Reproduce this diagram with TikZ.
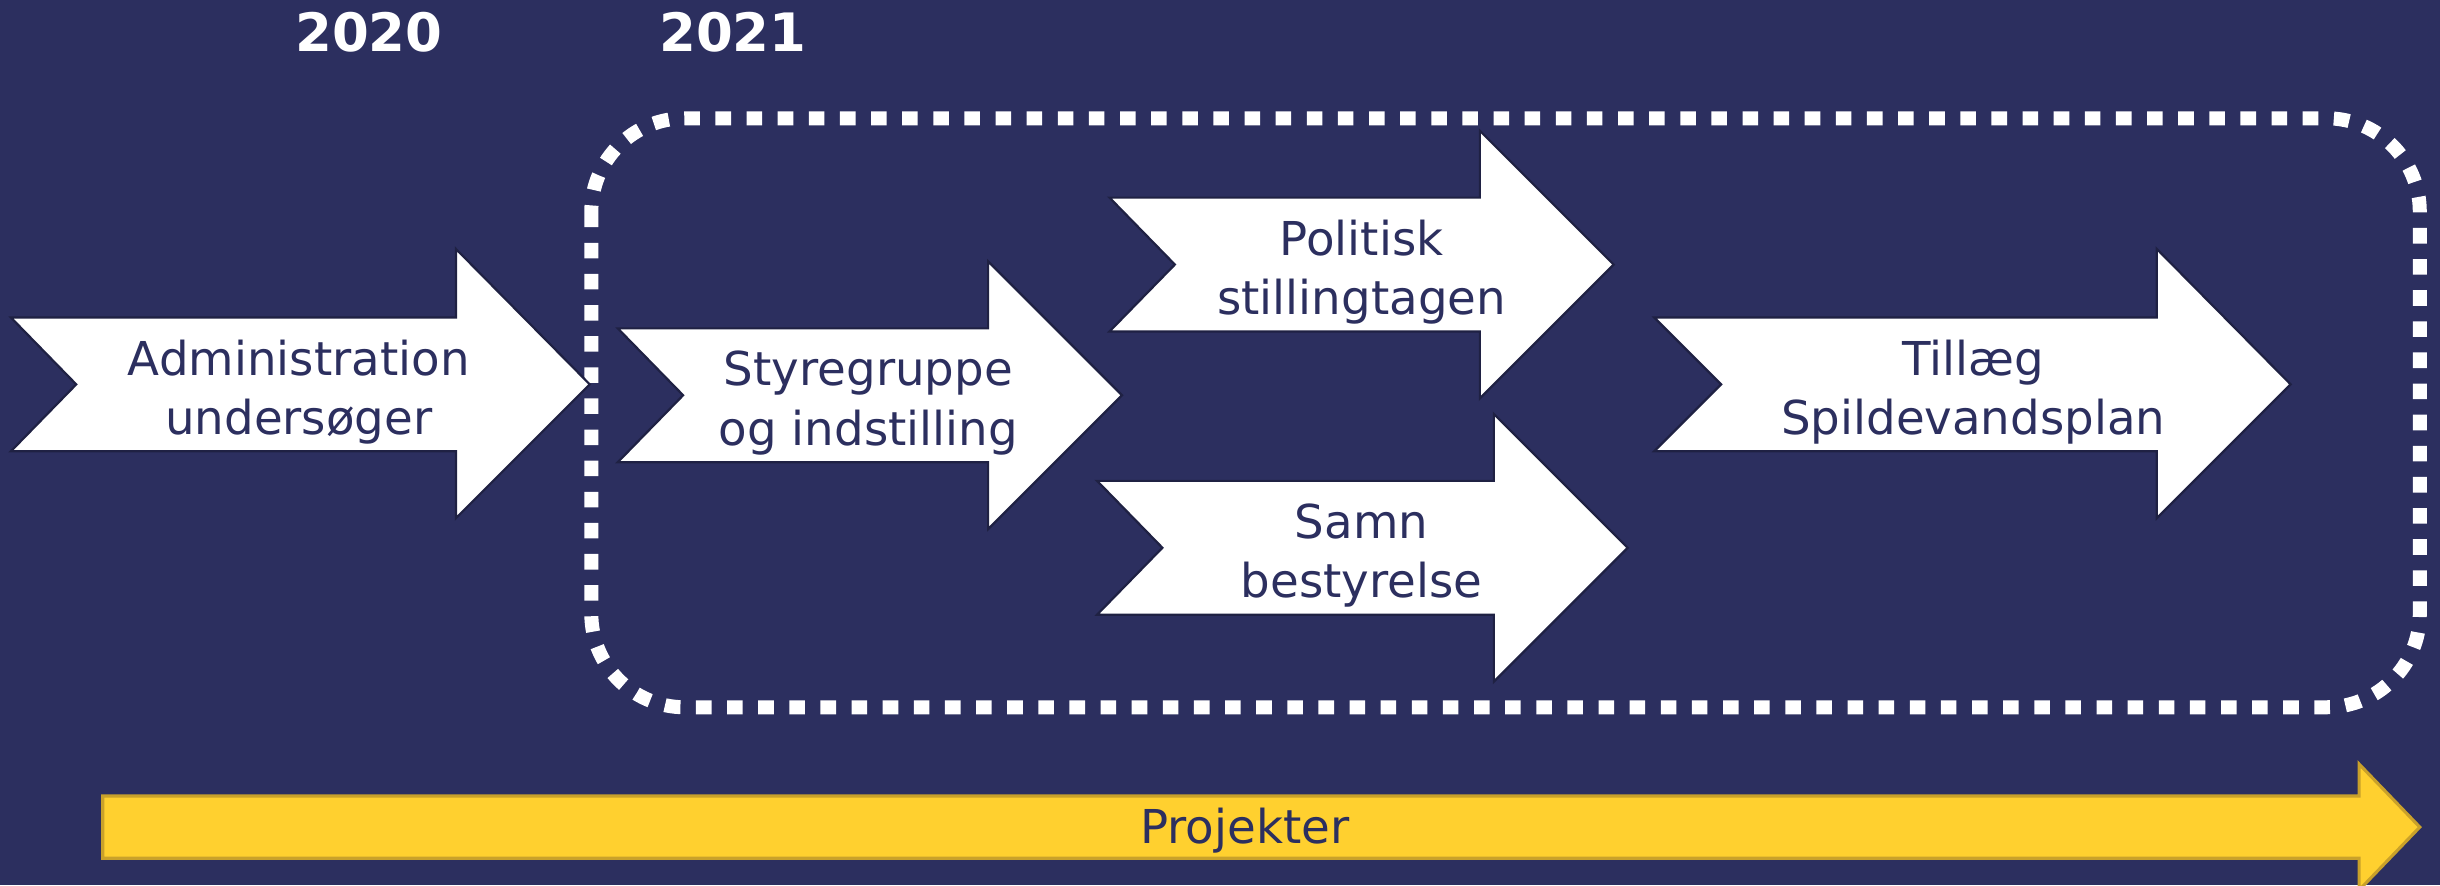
\documentclass[tikz,border=0pt]{standalone}
\usepackage{fontspec}
\setmainfont{DejaVu Sans}
\definecolor{navy}{HTML}{2C2F5F}
\definecolor{gold}{HTML}{FFD02F}
\definecolor{goldedge}{HTML}{C9A12A}
\tikzset{
  stage/.style={fill=white,draw=navy!70!black,line width=0.7pt,line join=miter},
  stagetext/.style={text=navy,align=center,font=\fontsize{15}{19}\selectfont},
  yeartext/.style={text=white,font=\fontsize{17}{20}\selectfont\bfseries},
}
\begin{document}
\begin{tikzpicture}[x=0.5pt,y=-0.5pt]
\useasboundingbox (0,0) rectangle (1568,569);
\fill[navy] (0,0) rectangle (1568,569);
% years
\node[yeartext] (y2020) at (237,21) {2020};
\node[yeartext] (y2021) at (471,21) {2021};
% dotted frame
\draw[white,line width=4.5pt,dash pattern=on 5pt off 5pt,rounded corners=30pt]
  (380,76) rectangle (1555,454.5);
% arrow 1
\draw[stage] (7,204)--(293,204)--(293,160)--(379,247)--(293,333)--(293,290)--(7,290)--(49,247)--cycle;
\node[stagetext] (a1) at (192,252) {Administration\\undersøger};
% arrow 2
\draw[stage] (397,211)--(635,211)--(635,168)--(721,254)--(635,340)--(635,297)--(397,297)--(439,254)--cycle;
\node[stagetext] (a2) at (558,259) {Styregruppe\\og indstilling};
% arrow 3
\draw[stage] (713,127)--(951,127)--(951,84)--(1037,170)--(951,256)--(951,213)--(713,213)--(755,170)--cycle;
\node[stagetext] (a3) at (875,175) {Politisk\\stillingtagen};
% arrow 4
\draw[stage] (705,309)--(960,309)--(960,266)--(1046,352)--(960,438)--(960,395)--(705,395)--(747,352)--cycle;
\node[stagetext] (a4) at (875,357) {Samn\\bestyrelse};
% arrow 5
\draw[stage] (1063,204)--(1386,204)--(1386,160)--(1472,247)--(1386,333)--(1386,290)--(1063,290)--(1106,247)--cycle;
\node[stagetext] (a5) at (1268,252) {Tillæg\\Spildevandsplan};
% projects arrow
\draw[fill=gold,draw=goldedge,line width=1pt,line join=miter]
  (66,511.5)--(1516,511.5)--(1516,491)--(1555,531.5)--(1516,572)--(1516,551.5)--(66,551.5)--cycle;
\node[stagetext] (proj) at (800,534) {Projekter};
\end{tikzpicture}
\end{document}
